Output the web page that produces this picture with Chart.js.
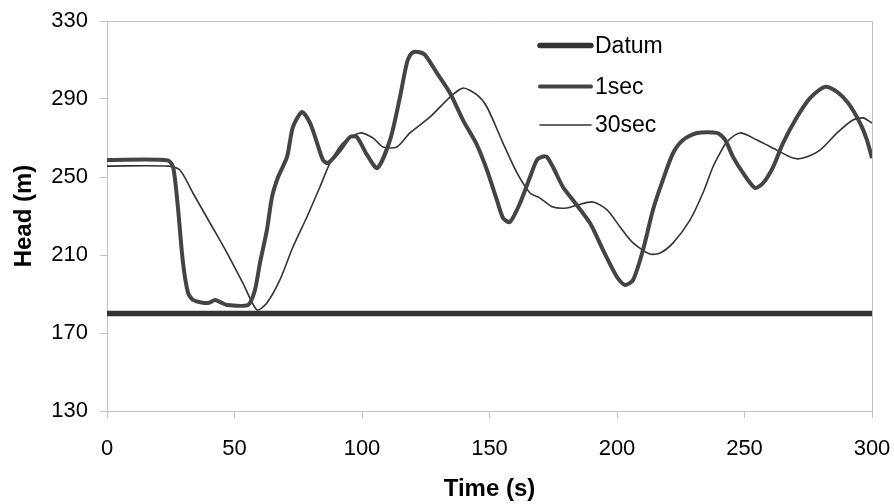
<!DOCTYPE html>
<html>
<head>
<meta charset="utf-8">
<script src="https://cdn.jsdelivr.net/npm/chart.js@4"></script>
<style>
html,body{margin:0;padding:0;background:#fff;}
#wrap{width:894px;height:504px;}
</style>
</head>
<body>
<div id="wrap"><canvas id="c"></canvas></div>
<script>
const xTicks = [0, 50, 100, 150, 200, 250, 300];
const yTicks = [130, 170, 210, 250, 290, 330];
const seriesLabels = ["Datum", "1sec", "30sec"];

const datumTime = [0, 300];
const datumHead = [180, 180];

const time1 = [0,24,26,27.8,29.8,31.8,33.7,37.6,40,42.4,45.1,47.1,55.3,58,60,62.7,64.7,67.1,70.6,72.9,76.5,79.6,82.4,84.7,86.7,91.4,95.3,98,102,106,111,114.9,117.6,119.6,122,124.7,129.4,134.5,139.6,145.1,149,152.9,155.3,158,162,165.9,168.6,171,172.5,174.9,178.8,182.7,189.4,194.5,200,203.1,206.3,210.2,214.1,218,222,225.9,231.4,239.2,242.4,245.5,249.4,254.1,257.3,261.2,265.1,270.6,275.7,281.6,286.3,290.6,295.3,298,300];
const head1 = [258.7,258.5,254.6,234.6,206,190.5,187,185.5,185.5,186.9,185.4,184.4,184.4,192,206,222.8,239.7,250,260.3,275.6,283.3,277.7,267.4,258.7,257.2,263.8,270.5,270.5,261.3,254.6,269,291,308.5,313.6,314.1,312.6,303.3,293.1,279.2,266.4,253.6,238.2,229,226.9,236.7,250,258.7,260.5,260.3,255.1,244.9,238.2,226.4,212.6,198.7,194.6,197.2,212.6,233.1,248.5,262.3,269,272.6,272.6,269,260.3,252.1,244.4,246.9,255.1,267.4,280.8,290.5,296.2,293.6,288,277.7,269,259.7];

const time30 = [0,24,28.6,33.7,40.4,47.1,53.3,58.8,62.7,67.8,72.9,78.4,83.5,87.5,92.5,99.2,104.3,108.2,113.7,118.8,126.7,134.5,139.6,145.1,149,155.3,160.8,165.9,169.8,174.9,180.4,184.3,190.6,196.1,201.2,206.3,212.9,216.9,222,228.6,233.7,237.6,240.4,243.1,248.2,254.9,262.7,269,272.9,279.6,286.3,292.5,296.5,300];
const head30 = [255.6,255.6,253.6,241.8,226.4,211,195.6,181.8,185.4,197.2,214.1,229.5,244.9,257.2,267.4,272.6,270,265.4,265.4,272.6,280.8,291,295.6,292.1,285.9,267.4,252.1,241.8,239.2,234.6,234.1,235.6,237.2,233.1,224.4,216.2,210.5,211,216.2,227.9,241.8,255.1,262.3,268,272.6,269,263.8,259.7,259.7,263.8,272.6,279.2,280.3,277.7];

function pts(xs, ys){ return xs.map((x,i)=>({x:x, y:ys[i]})); }

const FONT = "'Liberation Sans', Arial, sans-serif";

const frame = {
  id: 'frame',
  beforeDatasetsDraw(chart){
    const {ctx, chartArea:a} = chart;
    ctx.save();
    ctx.strokeStyle = '#c0c0c0';
    ctx.lineWidth = 1;
    ctx.beginPath();
    ctx.moveTo(a.left, a.top + 0.5);
    ctx.lineTo(a.right + 0.5, a.top + 0.5);
    ctx.lineTo(a.right + 0.5, a.bottom);
    ctx.stroke();
    ctx.restore();
  }
};

const legendIn = {
  id: 'legendIn',
  afterDraw(chart){
    const {ctx} = chart;
    const x0 = 540, x1 = 591, tx = 595;
    const ys = [45.5, 86.5, 125];
    ctx.save();
    chart.data.datasets.forEach((ds, i) => {
      ctx.strokeStyle = ds.borderColor;
      ctx.lineWidth = ds.borderWidth;
      ctx.lineCap = 'round';
      ctx.beginPath();
      ctx.moveTo(x0, ys[i]);
      ctx.lineTo(x1, ys[i]);
      ctx.stroke();
      ctx.fillStyle = '#000';
      ctx.font = '23px ' + FONT;
      ctx.textBaseline = 'middle';
      ctx.textAlign = 'left';
      ctx.fillText(ds.label, tx, ys[i] + 1);
    });
    ctx.restore();
  }
};

new Chart(document.getElementById('c'), {
  type: 'scatter',
  data: {
    datasets: [
      {label: seriesLabels[0], data: pts(datumTime, datumHead), showLine: true, borderColor: '#333333', borderWidth: 5.5, pointRadius: 0, tension: 0},
      {label: seriesLabels[1], data: pts(time1, head1), showLine: true, borderColor: '#444444', borderWidth: 4, pointRadius: 0, tension: 0.25},
      {label: seriesLabels[2], data: pts(time30, head30), showLine: true, borderColor: '#333333', borderWidth: 1.6, pointRadius: 0, tension: 0.25}
    ]
  },
  options: {
    responsive: true,
    maintainAspectRatio: false,
    animation: false,
    devicePixelRatio: 1,
    layout: {padding: {left: 8, top: 21, right: 22, bottom: 0}},
    plugins: {legend: {display: false}, tooltip: {enabled: false}},
    scales: {
      x: {
        type: 'linear', min: 0, max: 300,
        afterBuildTicks(s){ s.ticks = xTicks.map(v=>({value:v})); },
        afterFit(s){ s.height = 93; s.paddingLeft = 0; s.paddingRight = 0; },
        grid: {drawOnChartArea: false, drawTicks: true, tickLength: 7, color: '#c0c0c0'},
        border: {display: true, color: '#c0c0c0'},
        ticks: {color: '#000', font: {family: FONT, size: 22}, padding: 18, maxRotation: 0},
        title: {display: true, text: 'Time (s)', color: '#000', font: {family: FONT, size: 24, weight: 'bold'}, padding: {top: 0, bottom: 0}}
      },
      y: {
        type: 'linear', min: 130, max: 330,
        afterBuildTicks(s){ s.ticks = yTicks.map(v=>({value:v})); },
        afterFit(s){ s.width = 99; s.paddingTop = 0; s.paddingBottom = 0; },
        grid: {drawOnChartArea: false, drawTicks: true, tickLength: 7, color: '#c0c0c0'},
        border: {display: true, color: '#c0c0c0'},
        ticks: {color: '#000', font: {family: FONT, size: 22}, padding: 12},
        title: {display: true, text: 'Head (m)', color: '#000', font: {family: FONT, size: 24, weight: 'bold'}, padding: {top: 2, bottom: 2}}
      }
    }
  },
  plugins: [frame, legendIn]
});
</script>
</body>
</html>
